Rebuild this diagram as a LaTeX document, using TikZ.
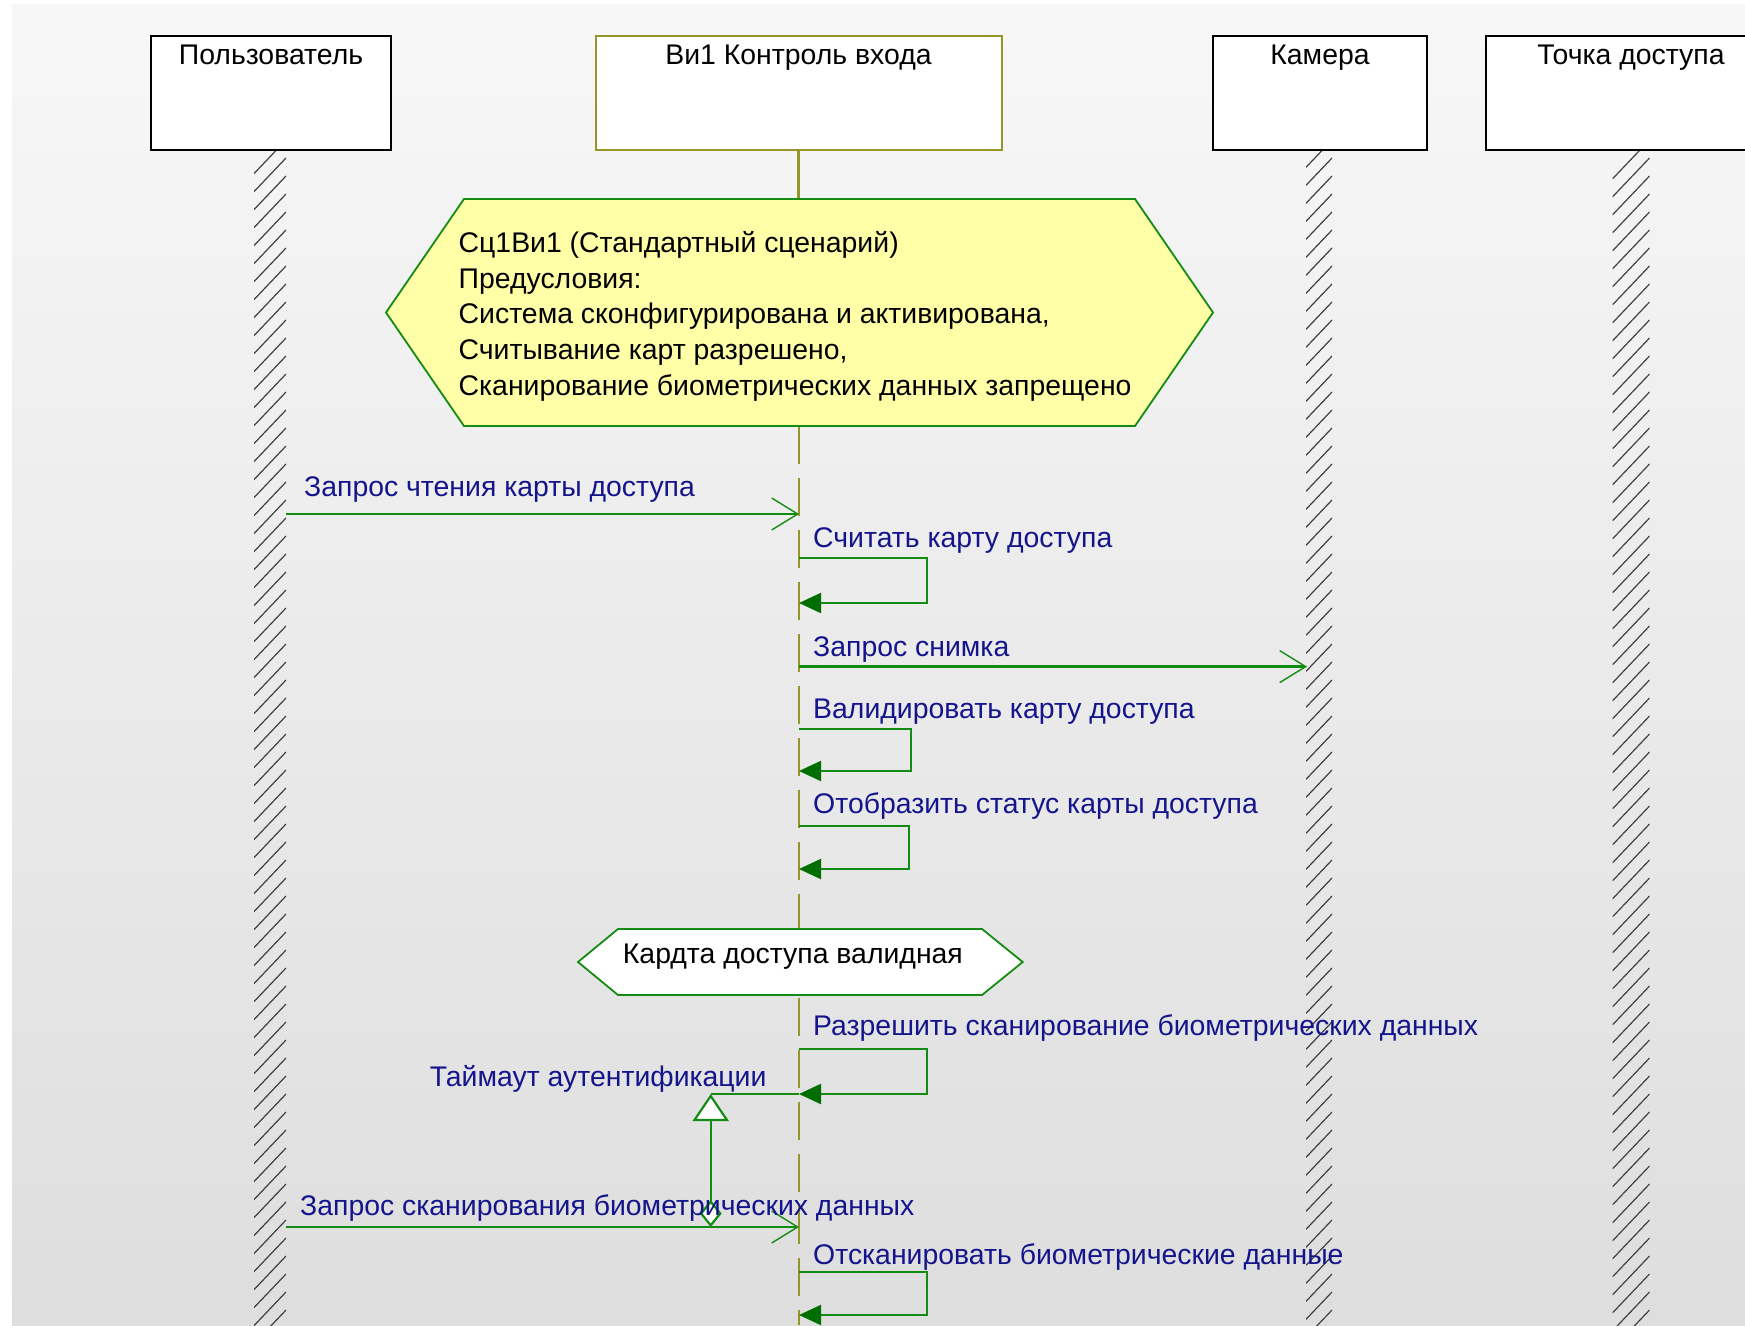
\documentclass[tikz,border=0pt]{standalone}
\usepackage{fontspec}
\setmainfont{Liberation Sans}
\usetikzlibrary{arrows.meta}
\definecolor{grn}{RGB}{20,140,20}
\definecolor{dgr}{RGB}{0,110,0}
\definecolor{blu}{RGB}{20,20,140}
\definecolor{olv}{RGB}{150,150,40}
\definecolor{ylw}{RGB}{255,255,168}
\tikzset{
    actor/.style={draw=black,fill=white,line width=2pt,inner sep=0pt,minimum height=114pt},
    ctrl/.style={actor,draw=olv},
    ttl/.style={anchor=base,inner sep=0pt},
    msgtxt/.style={blu,anchor=base west,inner sep=0pt},
    msg/.style={grn,line width=2.4pt,-{Straight Barb[length=26pt,width=32pt,line width=1.4pt]}},
    self/.style={grn,line width=2.2pt,-{Triangle[length=22pt,width=20pt,color=dgr]}},
    hatch/.style={black!75,line width=1.2pt},
    lifel/.style={olv,line width=2.2pt},
    note/.style={draw=grn,line width=1.8pt}
}

\begin{document}
\begin{tikzpicture}[x=1pt,y=-1pt,font=\fontsize{28.4}{35.6}\selectfont]
    \useasboundingbox (0,0) rectangle (1745,1325);
    \clip (0,0) rectangle (1745,1325);
    \fill[white] (0,0) rectangle (1745,1325);
    \fill[top color=black!3,bottom color=black!13] (12,4) rectangle (1745,1325);

    \node[actor,minimum width=240pt] (user) at (271,93) {};
    \node[ctrl,minimum width=406pt] (ctrl) at (798.5,93) {};
    \node[actor,minimum width=214pt] (cam) at (1320,93) {};
    \node[actor,minimum width=290pt] (ap) at (1631,93) {};
    \node[ttl] (user-t) at ([yshift=-29pt]user.north) {Пользователь};
    \node[ttl] (ctrl-t) at ([yshift=-29pt]ctrl.north) {Ви1 Контроль входа};
    \node[ttl] (cam-t) at ([yshift=-29pt]cam.north) {Камера};
    \node[ttl] (ap-t) at ([yshift=-29pt]ap.north) {Точка доступа};

    \foreach \cx/\hw in {270/16,1319/13,1631/18.5} {
        \begin{scope}
            \clip (\cx-\hw,151) rectangle (\cx+\hw,1325);
            \foreach \y in {140,158,...,1350}
                \draw[hatch] (\cx-\hw,\y+2.1*\hw) -- (\cx+\hw,\y);
        \end{scope}
    }

    \coordinate (h1top) at (798.5,199);
    \coordinate (lf-a) at (799,426);
    \coordinate (lf-b) at (799,1325);
    \draw[lifel] (ctrl.south) -- (h1top);
    \draw[lifel,dash pattern=on 38pt off 14pt] (lf-a) -- (lf-b);

    \draw[note,fill=ylw] (386,312.5) -- (464,199) -- (1135,199) -- (1213,312.5)
        -- (1135,426) -- (464,426) -- cycle;
    \foreach \pline [count=\i] in {Сц1Ви1 (Стандартный сценарий),Предусловия:,
            {Система сконфигурирована и активирована,},{Считывание карт разрешено,},
            Сканирование биометрических данных запрещено}
        \node[anchor=base west,inner sep=0pt] (pre\i) at (458.5,217+35.6*\i) {\pline};

    \coordinate (m1a) at (286,514);
    \coordinate (m1b) at (799,514);
    \draw[msg] (m1a) -- (m1b);
    \node[msgtxt] (m1t) at (304,496) {Запрос чтения карты доступа};

    \coordinate (m2a) at (799,666.6);
    \coordinate (m2b) at (1307,666.6);
    \draw[msg] (m2a) -- (m2b);
    \node[msgtxt] (m2t) at (813,656) {Запрос снимка};

    \foreach \i/\ya/\yb/\xr in {1/558/603/927,2/729/771/911,3/826/869/909,4/1049/1094/927,5/1272/1315/927} {
        \coordinate (sa\i) at (799,\ya);
        \coordinate (sr\i) at (\xr,\ya);
        \coordinate (sb\i) at (799,\yb);
        \draw[self] (sa\i) -- (sr\i) |- (sb\i);
    }
    \node[msgtxt] (s1t) at (813,547) {Считать карту доступа};
    \node[msgtxt] (s2t) at (813,718) {Валидировать карту доступа};
    \node[msgtxt] (s3t) at (813,813.5) {Отобразить статус карты доступа};
    \node[msgtxt] (s4t) at (813,1035) {Разрешить сканирование биометрических данных};
    \node[msgtxt] (s5t) at (813,1264) {Отсканировать биометрические данные};

    \draw[note,fill=white] (578,962) -- (618,929) -- (982,929) -- (1022.7,962)
        -- (982,995) -- (618,995) -- cycle;
    \node[anchor=base west,inner sep=0pt] (valid) at (622.7,963) {Кардта доступа валидная};

    \coordinate (to-c) at (710.7,1094);
    \coordinate (to-d) at (710.7,1227);
    \draw[grn,line width=2.2pt,{Diamond[fill=white,length=27pt,width=22pt]}-{Triangle[fill=white,length=27pt,width=36pt]}] (to-d) -- (to-c);
    \draw[grn,line width=2.2pt] (to-c) -- (sb4);
    \node[msgtxt] (tot) at (429.6,1086) {Таймаут аутентификации};

    \coordinate (m3a) at (286,1227);
    \coordinate (m3b) at (799,1227);
    \draw[msg] (m3a) -- (m3b);
    \node[msgtxt] (m3t) at (300,1215) {Запрос сканирования биометрических данных};
\end{tikzpicture}
\end{document}
